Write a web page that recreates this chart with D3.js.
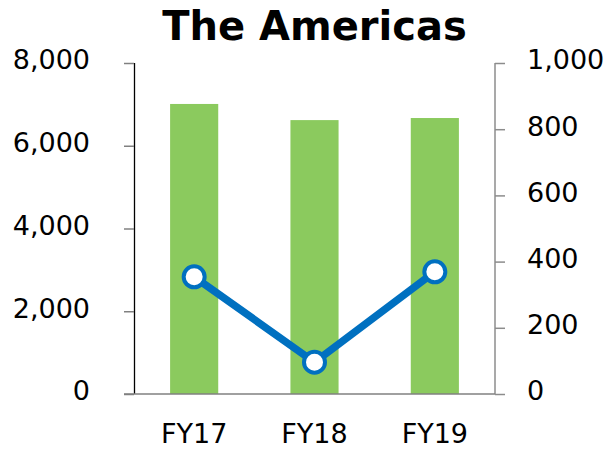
<!DOCTYPE html>
<html>
<head>
<meta charset="utf-8">
<script src="https://cdn.jsdelivr.net/npm/d3@7"></script>
<style>
  html, body { margin: 0; padding: 0; background: #fff; }
  svg { display: block; font-family: "DejaVu Sans", Verdana, sans-serif; }
</style>
</head>
<body>
<svg id="chart" width="610" height="449"></svg>
<script>
const title = "The Americas";
const categories = ["FY17", "FY18", "FY19"];
const barValues = [7010, 6620, 6670];
const lineValues = [354, 96, 369];
const leftTicks = [0, 2000, 4000, 6000, 8000];
const rightTicks = [0, 200, 400, 600, 800, 1000];

const svg = d3.select("#chart");
const plot = { left: 134, right: 495, top: 63, bottom: 394 };

const x = d3.scaleBand().domain(categories).range([plot.left, plot.right]).padding(0);
const yL = d3.scaleLinear().domain([0, 8000]).range([plot.bottom, plot.top]);
const yR = d3.scaleLinear().domain([0, 1000]).range([plot.bottom, plot.top]);
const fmt = d3.format(",");

// bars
const barW = x.bandwidth() * 0.4;
svg.append("g").selectAll("rect").data(categories).join("rect")
  .attr("x", d => x(d) + x.bandwidth() / 2 - barW / 2)
  .attr("y", (d, i) => yL(barValues[i]))
  .attr("width", barW)
  .attr("height", (d, i) => yL(0) - yL(barValues[i]))
  .attr("fill", "#8BCA5E");

// left axis
const gL = svg.append("g").attr("transform", `translate(${plot.left},0)`)
  .call(d3.axisLeft(yL).tickValues(leftTicks).tickFormat(fmt).tickSize(10).tickPadding(34));
gL.select(".domain").attr("stroke", "#000").attr("stroke-width", 1.3).attr("d", `M0.5,${plot.top}V${plot.bottom}`);
gL.selectAll(".tick line").attr("stroke", "#808080").attr("stroke-width", 1.5);
gL.selectAll(".tick text").attr("font-size", 27).attr("fill", "#000").attr("dy", "0.22em")
  .attr("font-family", "DejaVu Sans, Verdana, sans-serif");

// right axis
const gR = svg.append("g").attr("transform", `translate(${plot.right},0)`)
  .call(d3.axisRight(yR).tickValues(rightTicks).tickFormat(fmt).tickSize(10).tickPadding(22));
gR.select(".domain").attr("stroke", "#8c8c8c").attr("stroke-width", 1.5).attr("d", `M0,${plot.top}V${plot.bottom}`);
gR.selectAll(".tick line").attr("stroke", "#8c8c8c").attr("stroke-width", 1.5);
gR.selectAll(".tick text").attr("font-size", 27).attr("fill", "#000").attr("dy", "0.22em")
  .attr("font-family", "DejaVu Sans, Verdana, sans-serif");

// x axis
const gX = svg.append("g").attr("transform", `translate(0,${plot.bottom})`)
  .call(d3.axisBottom(x).tickSize(0).tickPadding(30));
gX.select(".domain").attr("stroke", "#808080").attr("stroke-width", 1.5).attr("d", `M${plot.left - 10},0H${plot.right}`);
gX.selectAll(".tick text").attr("font-size", 27).attr("fill", "#000")
  .attr("font-family", "DejaVu Sans, Verdana, sans-serif");

// line
const cx = d => x(d) + x.bandwidth() / 2;
const line = d3.line().x((d, i) => cx(categories[i])).y(d => yR(d));
svg.append("path").datum(lineValues).attr("d", line)
  .attr("fill", "none").attr("stroke", "#0070C0").attr("stroke-width", 7.5).attr("stroke-linejoin", "round");
svg.append("g").selectAll("circle").data(lineValues).join("circle")
  .attr("cx", (d, i) => cx(categories[i])).attr("cy", d => yR(d)).attr("r", 10.5)
  .attr("fill", "#fff").attr("stroke", "#0070C0").attr("stroke-width", 4);

// title
svg.append("text").attr("x", (plot.left + plot.right) / 2).attr("y", 40)
  .attr("text-anchor", "middle").attr("font-size", 40).attr("font-weight", "bold")
  .attr("fill", "#000").text(title);
</script>
</body>
</html>
